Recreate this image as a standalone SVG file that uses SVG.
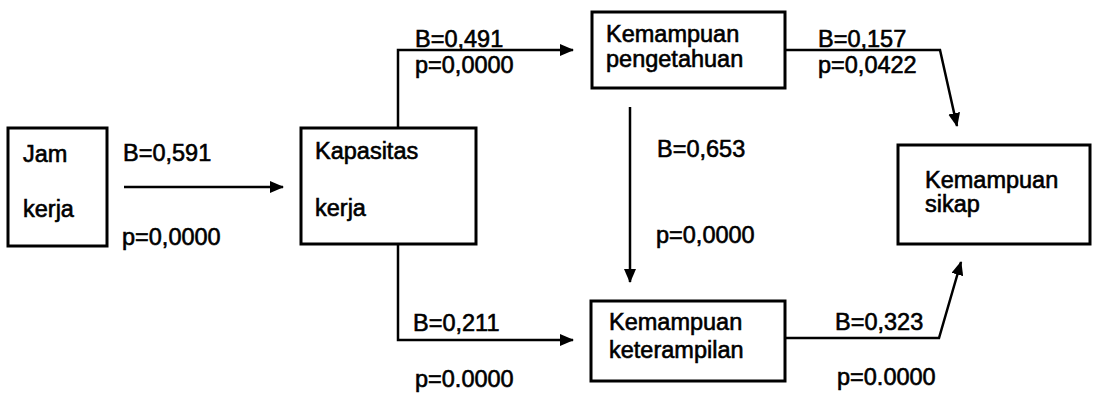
<svg xmlns="http://www.w3.org/2000/svg" width="1094" height="393" viewBox="0 0 1094 393">
  <defs>
    <marker id="arr" viewBox="0 0 14 12" refX="13" refY="6" markerWidth="14" markerHeight="12" markerUnits="userSpaceOnUse" orient="auto">
      <path d="M0,0 L14,6 L0,12 Z" fill="#000"/>
    </marker>
    <style>
      .box { fill: #fff; stroke: #000; stroke-width: 3; }
      .t { font-family: "Liberation Sans", Arial, sans-serif; font-size: 23.5px; fill: #000; stroke: #000; stroke-width: 0.6; }
      .c { fill: none; stroke: #000; stroke-width: 2.5; }
    </style>
  </defs>
  <rect width="1094" height="393" fill="#fff"/>

  <g id="connectors">
    <line class="c" x1="124" y1="187" x2="283" y2="187" marker-end="url(#arr)"/>
    <path class="c" d="M398,128 V50 H573" marker-end="url(#arr)"/>
    <path class="c" d="M398,244 V340 H573" marker-end="url(#arr)"/>
    <path class="c" d="M785,50 H940 L957,126" marker-end="url(#arr)"/>
    <line class="c" x1="630" y1="107" x2="630" y2="282" marker-end="url(#arr)"/>
    <path class="c" d="M785,338 H939 L961,262" marker-end="url(#arr)"/>
    <text class="t" x="123" y="161">B=0,591</text>
    <text class="t" x="122" y="245">p=0,0000</text>
    <text class="t" x="415" y="47">B=0,491</text>
    <text class="t" x="415" y="73">p=0,0000</text>
    <text class="t" x="413" y="331">B=0,211</text>
    <text class="t" x="415" y="387">p=0.0000</text>
    <text class="t" x="818" y="47">B=0,157</text>
    <text class="t" x="818" y="73">p=0,0422</text>
    <text class="t" x="657" y="157">B=0,653</text>
    <text class="t" x="656" y="243">p=0,0000</text>
    <text class="t" x="835" y="330">B=0,323</text>
    <text class="t" x="837" y="385">p=0.0000</text>
  </g>

  <g id="jam-kerja">
    <rect class="box" x="8" y="128" width="99" height="118"/>
    <text class="t" x="23" y="162">Jam</text>
    <text class="t" x="23" y="217">kerja</text>
  </g>

  <g id="kapasitas-kerja">
    <rect class="box" x="301" y="128" width="175" height="116"/>
    <text class="t" x="315" y="159">Kapasitas</text>
    <text class="t" x="315" y="216">kerja</text>
  </g>

  <g id="kemampuan-pengetahuan">
    <rect class="box" x="592" y="12" width="193" height="76"/>
    <text class="t" x="606" y="42">Kemampuan</text>
    <text class="t" x="606" y="67">pengetahuan</text>
  </g>

  <g id="kemampuan-keterampilan">
    <rect class="box" x="591" y="301" width="194" height="80"/>
    <text class="t" x="609" y="330">Kemampuan</text>
    <text class="t" x="609" y="358">keterampilan</text>
  </g>

  <g id="kemampuan-sikap">
    <rect class="box" x="898" y="145" width="192" height="99"/>
    <text class="t" x="925" y="188">Kemampuan</text>
    <text class="t" x="925" y="212">sikap</text>
  </g>
</svg>
